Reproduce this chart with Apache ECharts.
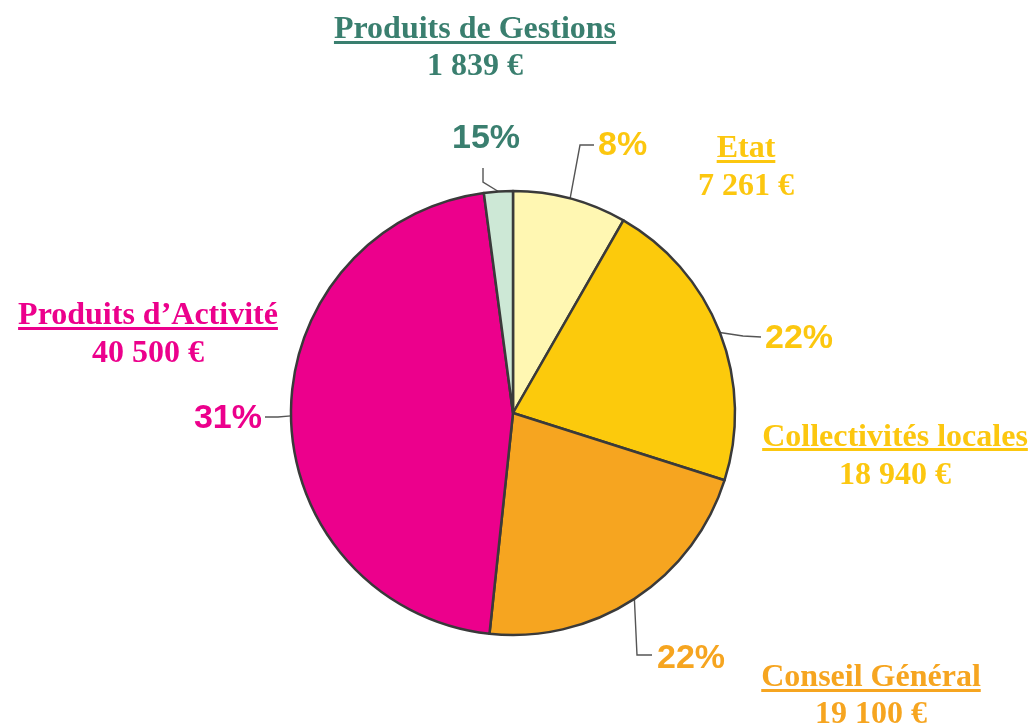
<!DOCTYPE html>
<html><head><meta charset="utf-8">
<script src="https://cdn.jsdelivr.net/npm/echarts@6/dist/echarts.min.js"></script>
<style>html,body{margin:0;padding:0;background:#fff}#c{width:1033px;height:723px}</style>
</head><body><div id="c"></div>
<script>
// ---- data ----
const categories = ['Etat', 'Collectivités locales', 'Conseil Général', 'Produits d’Activité', 'Produits de Gestions'];
const amounts = [7261, 18940, 19100, 40500, 1839];
const amountLabels = ['7 261 €', '18 940 €', '19 100 €', '40 500 €', '1 839 €'];
const percentLabels = ['8%', '22%', '22%', '31%', '15%'];

// ---- styles ----
const sliceColors = ['#fff7b2', '#fcca0c', '#f6a520', '#ec008c', '#cde8d6'];
const textColors = ['#fcc70f', '#fcc70f', '#f6a520', '#ec008c', '#3a7f6f'];

// ---- layout ----
const pieCenter = [513, 413], pieRadius = 222;
// percent label anchors and leader-line bends
const pctLayout = [
  { x: 598, y: 146, align: 'left',  line: [[580, 145], [594, 145]] },
  { x: 765, y: 339, align: 'left',  line: [[743, 336], [761, 337]] },
  { x: 657, y: 659, align: 'left',  line: [[637, 655], [652, 655]] },
  { x: 262, y: 419, align: 'right', line: [[278, 417], [265, 417]] },
  { x: 452, y: 139, align: 'left',  line: [[483, 182], [483, 168]] }
];
// category titles: centre x, title middle y, underline y, value middle y
const titleLayout = [
  { x: 746, ty: 149, uy: 160, vy: 187 },
  { x: 895, ty: 438, uy: 448, vy: 476 },
  { x: 871, ty: 678, uy: 689, vy: 715 },
  { x: 148, ty: 316, uy: 327, vy: 354 },
  { x: 475, ty: 30,  uy: 41,  vy: 67 }
];

const titleFont = 'bold 32px "Liberation Serif"';
const measureCtx = document.createElement('canvas').getContext('2d');
measureCtx.font = titleFont;

const total = amounts.reduce((a, b) => a + b, 0);
function edgePoint(i) {
  let before = 0;
  for (let k = 0; k < i; k++) before += amounts[k];
  const ang = (before + amounts[i] / 2) / total * 2 * Math.PI;
  return [pieCenter[0] + pieRadius * Math.sin(ang), pieCenter[1] - pieRadius * Math.cos(ang)];
}

const graphics = [];
categories.forEach(function (name, i) {
  const L = titleLayout[i];
  const w = measureCtx.measureText(name).width;
  graphics.push({
    type: 'text', x: L.x, y: L.ty, silent: true,
    style: { text: name, font: titleFont, fill: textColors[i], align: 'center', verticalAlign: 'middle' }
  });
  graphics.push({
    type: 'rect', silent: true,
    shape: { x: L.x - w / 2, y: L.uy, width: w, height: 3 },
    style: { fill: textColors[i] }
  });
  graphics.push({
    type: 'text', x: L.x, y: L.vy, silent: true,
    style: { text: amountLabels[i], font: titleFont, fill: textColors[i], align: 'center', verticalAlign: 'middle' }
  });
});

const chart = echarts.init(document.getElementById('c'), null, { renderer: 'canvas' });
chart.setOption({
  animation: false,
  backgroundColor: '#ffffff',
  graphic: graphics,
  series: [{
    type: 'pie',
    center: pieCenter,
    radius: pieRadius,
    startAngle: 90,
    clockwise: true,
    silent: true,
    data: categories.map(function (name, i) {
      return {
        name: name,
        value: amounts[i],
        itemStyle: { color: sliceColors[i] },
        label: { color: textColors[i] }
      };
    }),
    itemStyle: { borderColor: '#3a3a3a', borderWidth: 2.5 },
    label: {
      show: true,
      position: 'outside',
      formatter: function (p) { return percentLabels[p.dataIndex]; },
      fontFamily: '"Liberation Sans", Arial, sans-serif',
      fontWeight: 'bold',
      fontSize: 34
    },
    labelLine: {
      show: true,
      length: 20,
      length2: 15,
      lineStyle: { color: '#555555', width: 1.4 }
    },
    labelLayout: function (p) {
      const L = pctLayout[p.dataIndex];
      const edge = (p.labelLinePoints && p.labelLinePoints[0]) || edgePoint(p.dataIndex);
      return {
        x: L.x, y: L.y, align: L.align, verticalAlign: 'middle',
        labelLinePoints: [edge, L.line[0], L.line[1]]
      };
    },
    emphasis: { disabled: true }
  }]
});
</script>
</body></html>
